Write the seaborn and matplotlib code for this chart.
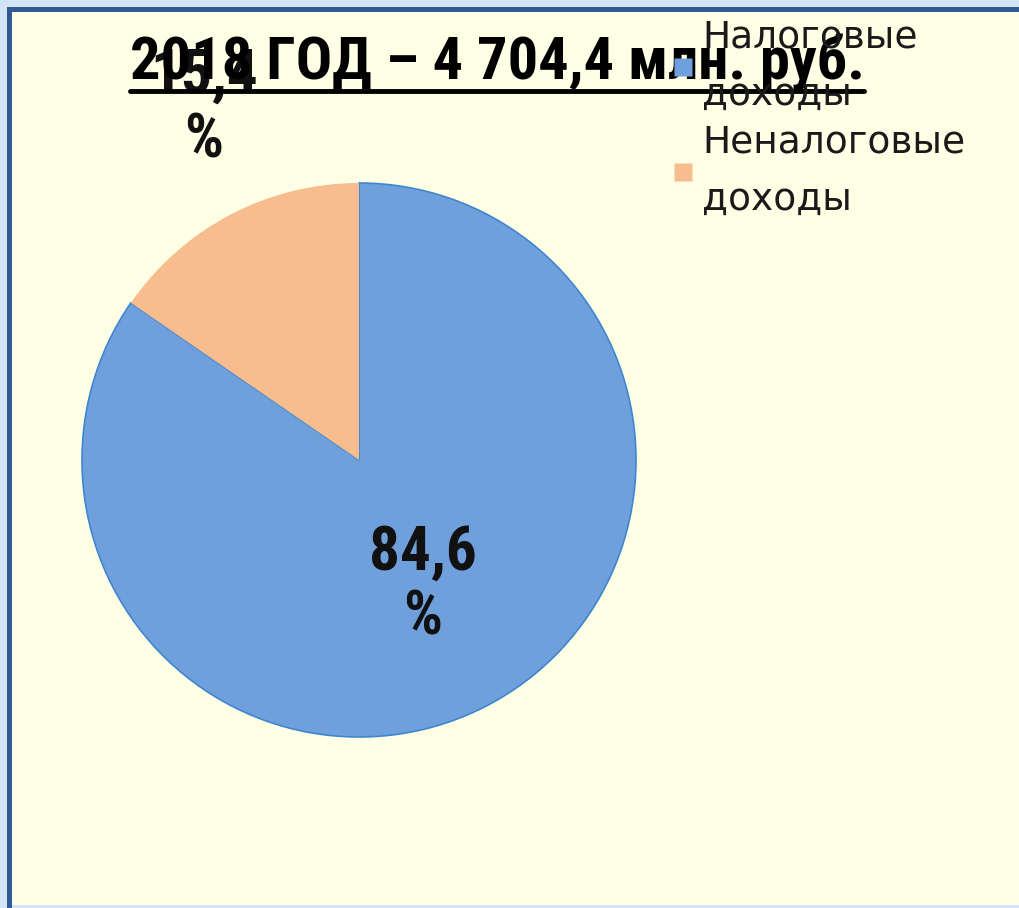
import numpy as np
import matplotlib
matplotlib.use("Agg")
import matplotlib.pyplot as plt
import seaborn as sns
from matplotlib import font_manager
from matplotlib.patches import Rectangle
from matplotlib.lines import Line2D

title = "2018 ГОД – 4 704,4 млн. руб."
categories = ["Налоговые\nдоходы", "Неналоговые\nдоходы"]
shares = [84.6, 15.4]
share_labels = ["84,6\n%", "15,4\n%"]
colors = ["#6FA0DC", "#F8BD8E"]

sns.set_style("white")
installed = {f.name for f in font_manager.fontManager.ttflist}
narrow = [n for n in ["Liberation Sans Narrow", "Roboto Condensed"] if n in installed]
plt.rcParams['font.family'] = narrow + ['Liberation Sans', 'DejaVu Sans']
k = 1.0 if narrow else 0.85   # shrink a bit when no condensed face exists

W, H = 1019, 908
fig = plt.figure(figsize=(W / 100, H / 100), dpi=100)
fig.patch.set_facecolor("#D3E5F5")

# slide frame: yellow panel with dark blue top/left border
bg = fig.add_axes([0, 0, 1, 1], zorder=-5)
bg.set_xlim(0, W)
bg.set_ylim(H, 0)
bg.axis("off")
bg.add_patch(Rectangle((12, 12), W, H - 15, facecolor="#FFFFE6", edgecolor="none"))
bg.add_patch(Rectangle((7, 7), 5, H, facecolor="#2F5A93", edgecolor="none"))
bg.add_patch(Rectangle((7, 7), W, 5, facecolor="#2F5A93", edgecolor="none"))

# pie axes: center (359, 460), radius 277 px
cx, cy, r = 359, 460, 277
ax = fig.add_axes([(cx - r) / W, (H - cy - r) / H, 2 * r / W, 2 * r / H])
ax.set_facecolor("none")
wedges, texts = ax.pie(shares, colors=colors, startangle=90, counterclock=False,
                       radius=1, wedgeprops=dict(linewidth=0))
wedges[0].set_edgecolor("#3F86D0")
wedges[0].set_linewidth(1.2)
ax.set_xlim(-1, 1)
ax.set_ylim(-1, 1)
ax.set_aspect("equal")
ax.axis("off")

# percentage labels
ax.text(0.23, -0.45, share_labels[0], ha="center", va="center",
        fontsize=44 * k, fontweight="bold", color="#111111", linespacing=1.15)
ax.text(-0.56, 1.27, share_labels[1], ha="center", va="center",
        fontsize=44 * k, fontweight="bold", color="#111111", linespacing=1.15,
        clip_on=False)

# title with underline
t = fig.text(497 / W, 1 - 63 / H, title, ha="center", va="center",
             fontsize=43.5 * k, fontweight="bold", color="black", zorder=5)
fig.canvas.draw()
bb = t.get_window_extent(fig.canvas.get_renderer())
fig.lines.append(Line2D([bb.x0 / W, bb.x1 / W], [1 - 91 / H, 1 - 91 / H],
                        transform=fig.transFigure, color="black",
                        linewidth=3.5, zorder=5))

# legend (wider, lighter face than the title)
handles = [Line2D([], [], marker="s", linestyle="none", markersize=13,
                  markerfacecolor=c, markeredgecolor="none") for c in colors]
leg = fig.legend(handles, categories, loc="upper left",
                 bbox_to_anchor=(672 / W, 1 - 19 / H), frameon=False,
                 prop={"family": ["DejaVu Sans"], "size": 27},
                 handlelength=0.6, handletextpad=0.2, borderpad=0,
                 labelspacing=0.3, borderaxespad=0)
for txt in leg.get_texts():
    txt.set_color("#1A1A1A")
    txt.set_linespacing(1.78)

fig.savefig("out.png", dpi=100, facecolor=fig.get_facecolor())
